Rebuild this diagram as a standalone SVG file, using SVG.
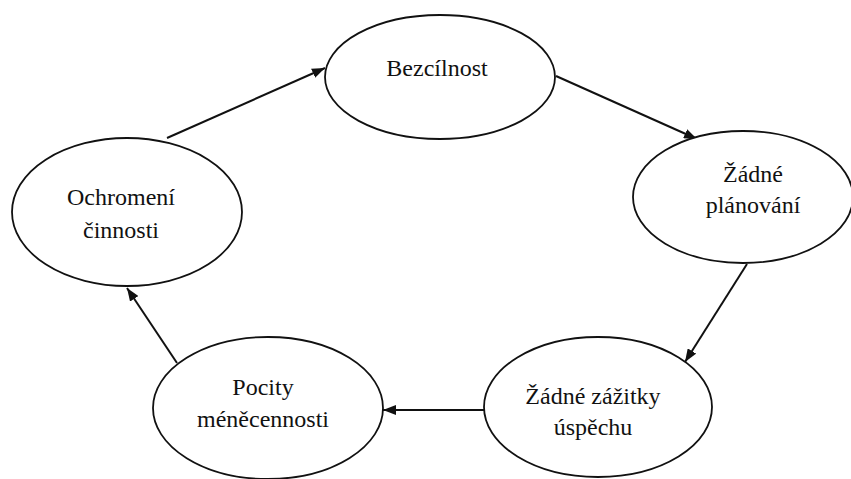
<svg xmlns="http://www.w3.org/2000/svg" width="851" height="479" viewBox="0 0 851 479">
<style>
.node ellipse{fill:#fff;stroke:#111;stroke-width:1.8}
.node text{font-family:"Liberation Serif","Times New Roman",serif;font-size:24px;fill:#111;text-anchor:middle}
.conn line{stroke:#111;stroke-width:2}
</style>
<defs>
<marker id="arr" markerUnits="userSpaceOnUse" markerWidth="13" markerHeight="10" refX="13" refY="5" orient="auto">
<path d="M0,0 L13,5 L0,10 z" fill="#111"/>
</marker>
</defs>
<rect width="851" height="479" fill="#fff"/>
<g id="connectors" class="conn">
<line x1="167" y1="138" x2="325" y2="68" marker-end="url(#arr)"/>
<line x1="556" y1="76" x2="697" y2="139" marker-end="url(#arr)"/>
<line x1="747" y1="264" x2="685" y2="362" marker-end="url(#arr)"/>
<line x1="485" y1="410" x2="383" y2="410" marker-end="url(#arr)"/>
<line x1="177" y1="363" x2="127" y2="288" marker-end="url(#arr)"/>
</g>
<g id="bezcilnost" class="node">
<ellipse cx="440" cy="77" rx="115" ry="62"/>
<text x="437" y="76">Bezcílnost</text>
</g>
<g id="zadne-planovani" class="node">
<ellipse cx="743" cy="197" rx="110" ry="66"/>
<text x="753" y="182">Žádné</text>
<text x="753" y="213">plánování</text>
</g>
<g id="zadne-zazitky" class="node">
<ellipse cx="598" cy="407" rx="114" ry="70"/>
<text x="593" y="404">Žádné zážitky</text>
<text x="593" y="435">úspěchu</text>
</g>
<g id="pocity" class="node">
<ellipse cx="268" cy="408" rx="115" ry="71"/>
<text x="263" y="395">Pocity</text>
<text x="263" y="427">méněcennosti</text>
</g>
<g id="ochromeni" class="node">
<ellipse cx="127" cy="212" rx="115" ry="74"/>
<text x="121" y="205">Ochromení</text>
<text x="121" y="238">činnosti</text>
</g>
</svg>
